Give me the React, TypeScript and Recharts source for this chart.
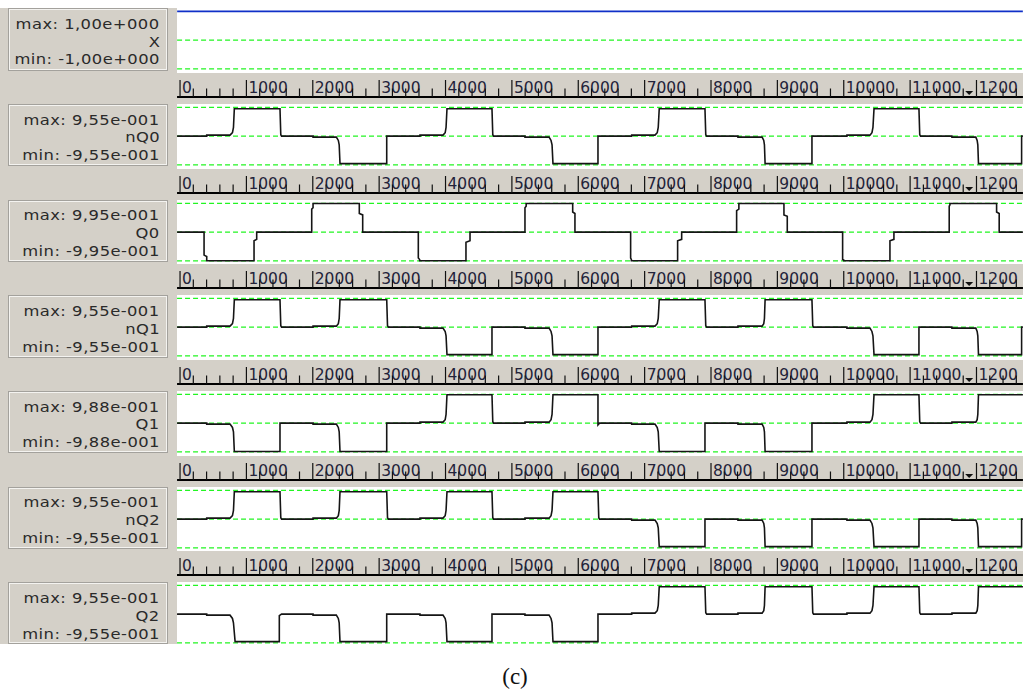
import React from 'react';
import { LineChart, Line, XAxis, YAxis, CartesianGrid } from 'recharts';

// ---------- data (time, value) ----------
const timeDomain: [number, number] = [-45, 12700];

const axisTicks = [
  0, 200, 400, 600, 800, 1000, 1200, 1400, 1600, 1800, 2000, 2200, 2400, 2600, 2800,
  3000, 3200, 3400, 3600, 3800, 4000, 4200, 4400, 4600, 4800, 5000, 5200, 5400, 5600, 5800,
  6000, 6200, 6400, 6600, 6800, 7000, 7200, 7400, 7600, 7800, 8000, 8200, 8400, 8600, 8800,
  9000, 9200, 9400, 9600, 9800, 10000, 10200, 10400, 10600, 10800, 11000, 11200, 11400, 11600, 11800,
  12000, 12200, 12400, 12600,
];
// labels as they are visible in the picture (the last one is truncated by the window edge)
const majorLabels: Record<number, string> = {
  0: '0', 1000: '1000', 2000: '2000', 3000: '3000', 4000: '4000', 5000: '5000', 6000: '6000',
  7000: '7000', 8000: '8000', 9000: '9000', 10000: '10000', 11000: '11000', 12000: '1200',
};

const signalNames = ['X', 'nQ0', 'Q0', 'nQ1', 'Q1', 'nQ2', 'Q2'];
const maxLabels = ['1,00e+000', '9,55e-001', '9,95e-001', '9,55e-001', '9,88e-001', '9,55e-001', '9,55e-001'];
const minLabels = ['-1,00e+000', '-9,55e-001', '-9,95e-001', '-9,55e-001', '-9,88e-001', '-9,55e-001', '-9,55e-001'];

const xSig: [number, number][] = [[-45, 1], [12700, 1]];

const nQ0Sig: [number, number][] = [
  [-45, 0], [402, 0], [402, 0.035], [753, 0.035], [790, 0.12], [805, 0.3], [818, 0.955], [1506, 0.955], [1518, 0.05], [1530, 0],
  [2004, 0], [2004, -0.035], [2355, -0.035], [2385, -0.15], [2398, -0.3], [2410, -0.955], [3114, -0.955], [3114, 0],
  [3615, 0], [3615, 0.035], [3962, 0.035], [3995, 0.12], [4008, 0.3], [4022, 0.955], [4700, 0.955], [4712, 0.05], [4725, 0],
  [5197, 0], [5197, -0.035], [5560, -0.035], [5590, -0.15], [5605, -0.3], [5619, -0.955], [6297, -0.955], [6297, 0],
  [6805, 0], [6805, 0.035], [7156, 0.035], [7190, 0.12], [7205, 0.3], [7220, 0.955], [7909, 0.955], [7921, 0.05], [7935, 0],
  [8406, 0], [8406, -0.035], [8770, -0.035], [8795, -0.15], [8805, -0.3], [8815, -0.955], [9521, -0.955], [9521, 0],
  [10048, 0], [10048, 0.035], [10395, 0.035], [10425, 0.12], [10440, 0.3], [10456, 0.955], [11133, 0.955], [11145, 0.05], [11158, 0],
  [11630, 0], [11630, -0.035], [11990, -0.035], [12010, -0.15], [12020, -0.3], [12030, -0.955], [12680, -0.955], [12680, 0], [12700, 0],
];

const q0Sig: [number, number][] = [
  [-45, 0], [362, 0], [362, -0.8], [402, -0.85], [402, -0.995], [1115, -0.995], [1115, -0.3], [1155, -0.25], [1155, 0],
  [1984, 0], [1984, 0.8], [2004, 0.85], [2004, 0.995], [2701, 0.995], [2701, 0.65], [2752, 0.6], [2752, 0],
  [3590, 0], [3590, -0.9], [3610, -0.95], [3610, -0.995], [4308, -0.995], [4308, -0.35], [4369, -0.3], [4369, 0],
  [5197, 0], [5197, 0.85], [5215, 0.9], [5215, 0.995], [5916, 0.995], [5916, 0.7], [5950, 0.65], [5950, 0],
  [6789, 0], [6789, -0.9], [6800, -0.95], [6800, -0.995], [7497, -0.995], [7497, -0.3], [7558, -0.25], [7558, 0],
  [8386, 0], [8386, 0.75], [8420, 0.8], [8420, 0.995], [9099, 0.995], [9099, 0.6], [9149, 0.55], [9149, 0],
  [9983, 0], [9983, -0.95], [10000, -0.97], [10000, -0.995], [10696, -0.995], [10696, -0.3], [10756, -0.25], [10756, 0],
  [11589, 0], [11589, 0.9], [11600, 0.95], [11600, 0.995], [12303, 0.995], [12303, 0.7], [12342, 0.65], [12342, 0], [12700, 0],
];

const nQ1Sig: [number, number][] = [
  [-45, 0], [402, 0], [402, 0.035], [753, 0.035], [790, 0.12], [805, 0.3], [818, 0.955], [1506, 0.955], [1518, 0.05], [1530, 0],
  [2004, 0], [2004, 0.035], [2355, 0.035], [2385, 0.12], [2398, 0.3], [2410, 0.955], [3114, 0.955], [3126, 0.05], [3140, 0],
  [3615, 0], [3615, -0.035], [3962, -0.035], [3995, -0.15], [4008, -0.3], [4022, -0.955], [4700, -0.955], [4700, 0],
  [5197, 0], [5197, -0.035], [5560, -0.035], [5590, -0.15], [5605, -0.3], [5619, -0.955], [6297, -0.955], [6297, 0],
  [6805, 0], [6805, 0.035], [7156, 0.035], [7190, 0.12], [7205, 0.3], [7220, 0.955], [7909, 0.955], [7921, 0.05], [7935, 0],
  [8406, 0], [8406, 0.035], [8770, 0.035], [8795, 0.12], [8805, 0.3], [8815, 0.955], [9521, 0.955], [9533, 0.05], [9545, 0],
  [10048, 0], [10048, -0.035], [10395, -0.035], [10425, -0.15], [10440, -0.3], [10456, -0.955], [11133, -0.955], [11133, 0],
  [11630, 0], [11630, -0.035], [11990, -0.035], [12010, -0.15], [12020, -0.3], [12030, -0.955], [12680, -0.955], [12680, 0], [12700, 0],
];

const q1Sig: [number, number][] = [
  [-45, 0], [402, 0], [402, -0.035], [753, -0.035], [790, -0.15], [805, -0.3], [818, -0.988], [1506, -0.988], [1506, 0],
  [2004, 0], [2004, -0.035], [2355, -0.035], [2385, -0.15], [2398, -0.3], [2410, -0.988], [3114, -0.988], [3114, 0],
  [3615, 0], [3615, 0.035], [3962, 0.035], [3995, 0.12], [4008, 0.3], [4022, 0.988], [4700, 0.988], [4712, 0.05], [4725, 0],
  [5197, 0], [5197, 0.035], [5560, 0.035], [5590, 0.12], [5605, 0.3], [5619, 0.988], [6297, 0.988], [6297, -0.06], [6320, 0],
  [6805, 0], [6805, -0.035], [7156, -0.035], [7190, -0.15], [7205, -0.3], [7220, -0.988], [7909, -0.988], [7909, 0],
  [8406, 0], [8406, -0.035], [8770, -0.035], [8795, -0.15], [8805, -0.3], [8815, -0.988], [9521, -0.988], [9521, 0],
  [10048, 0], [10048, 0.035], [10395, 0.035], [10425, 0.12], [10440, 0.3], [10456, 0.988], [11133, 0.988], [11145, 0.05], [11158, 0],
  [11630, 0], [11630, 0.035], [11990, 0.035], [12010, 0.12], [12020, 0.3], [12030, 0.988], [12700, 0.988],
];

const nQ2Sig: [number, number][] = [
  [-45, 0], [402, 0], [402, 0.035], [753, 0.035], [790, 0.12], [805, 0.3], [818, 0.955], [1506, 0.955], [1518, 0.05], [1530, 0],
  [2004, 0], [2004, 0.035], [2355, 0.035], [2385, 0.12], [2398, 0.3], [2410, 0.955], [3114, 0.955], [3126, 0.05], [3140, 0],
  [3615, 0], [3615, 0.035], [3962, 0.035], [3995, 0.12], [4008, 0.3], [4022, 0.955], [4700, 0.955], [4712, 0.05], [4725, 0],
  [5197, 0], [5197, 0.035], [5560, 0.035], [5590, 0.12], [5605, 0.3], [5619, 0.955], [6297, 0.955], [6309, 0.05], [6320, 0],
  [6805, 0], [6805, -0.035], [7156, -0.035], [7190, -0.15], [7205, -0.3], [7220, -0.955], [7909, -0.955], [7909, 0],
  [8406, 0], [8406, -0.035], [8770, -0.035], [8795, -0.15], [8805, -0.3], [8815, -0.955], [9521, -0.955], [9521, 0],
  [10048, 0], [10048, -0.035], [10395, -0.035], [10425, -0.15], [10440, -0.3], [10456, -0.955], [11133, -0.955], [11133, 0],
  [11630, 0], [11630, -0.035], [11990, -0.035], [12010, -0.15], [12020, -0.3], [12030, -0.955], [12680, -0.955], [12680, 0], [12700, 0],
];

const q2Sig: [number, number][] = [
  [-45, 0], [402, 0], [402, -0.035], [753, -0.035], [790, -0.15], [805, -0.3], [830, -0.955], [1496, -0.955], [1496, -0.05], [1530, 0],
  [2004, 0], [2004, -0.035], [2355, -0.035], [2385, -0.15], [2398, -0.3], [2410, -0.955], [3114, -0.955], [3114, 0],
  [3615, 0], [3615, -0.035], [3962, -0.035], [3995, -0.15], [4008, -0.3], [4022, -0.955], [4700, -0.955], [4700, 0],
  [5197, 0], [5197, -0.035], [5560, -0.035], [5590, -0.15], [5605, -0.3], [5619, -0.955], [6297, -0.955], [6297, 0],
  [6805, 0], [6805, 0.035], [7156, 0.035], [7190, 0.12], [7205, 0.3], [7220, 0.955], [7909, 0.955], [7921, 0.05], [7935, 0],
  [8406, 0], [8406, 0.035], [8770, 0.035], [8795, 0.12], [8805, 0.3], [8815, 0.955], [9521, 0.955], [9533, 0.05], [9545, 0],
  [10048, 0], [10048, 0.035], [10395, 0.035], [10425, 0.12], [10440, 0.3], [10456, 0.955], [11133, 0.955], [11145, 0.05], [11158, 0],
  [11630, 0], [11630, 0.035], [11990, 0.035], [12010, 0.12], [12020, 0.3], [12030, 0.955], [12700, 0.955],
];

const signals = [xSig, nQ0Sig, q0Sig, nQ1Sig, q1Sig, nQ2Sig, q2Sig];
const signalColors = ['#1030c8', '#151515', '#151515', '#151515', '#151515', '#151515', '#151515'];

// ---------- layout ----------
const GRAY = '#d4d0c8';
const PLOT_LEFT = 177;
const PLOT_W = 846;
const T0 = 11.7;
const PITCH = 95.67;
const UNIT = 28.75; // px per value unit
const AXIS_H = 32;
const BASE_OFF = 10.4; // axis baseline above top dash
const FIG_BOTTOM = 644;

const toPts = (a: [number, number][]) => a.map(([t, v]) => ({ t, v }));

const AxisTick = (props: any) => {
  const { x, y, payload } = props;
  const v = payload.value as number;
  const label = majorLabels[v];
  const major = label !== undefined;
  return (
    <g>
      <line x1={x} x2={x} y1={y} y2={y - (major ? 17 : 8.5)} stroke="#111" strokeWidth={1.2} />
      {major && (
        <text x={x + 2} y={y - 3.5} fontSize={15.5} fontFamily="DejaVu Sans" fill="#23233a">
          {label}
        </text>
      )}
      {v === 11800 && (
        <path d={`M ${x + 2} ${y - 6} L ${x + 10} ${y - 6} L ${x + 6} ${y - 2} Z`} fill="#111" />
      )}
    </g>
  );
};

function BoxLine({ text, center }: { text: string; center: number }) {
  return (
    <div style={{
      position: 'absolute', right: 7, top: center - 8.5, height: 17, lineHeight: '17px',
      fontFamily: 'DejaVu Sans', fontSize: 14.6, letterSpacing: '0.4px', color: '#2a2a2a', whiteSpace: 'nowrap',
      transform: 'scaleX(1.12)', transformOrigin: 'right center',
    }}>{text}</div>
  );
}

function Panel({ k }: { k: number }) {
  const T = T0 + PITCH * k;
  const hasAxis = k > 0;
  const plotTop = hasAxis ? T - BASE_OFF : T - 3.4;
  const plotBottom = k === 6 ? FIG_BOTTOM : T + 61.3;
  const yMax = 1 + (T - plotTop) / UNIT;
  const yMin = -1 - (plotBottom - (T + 57.5)) / UNIT;
  const chartTop = hasAxis ? plotTop - AXIS_H : plotTop;
  const chartH = plotBottom - chartTop;
  const whiteTop = T - 3.4;
  const boxTop = T - 3.5;
  const boxH = k === 6 ? FIG_BOTTOM - boxTop : 62.5;
  return (
    <>
      <div style={{ position: 'absolute', left: PLOT_LEFT, top: whiteTop, width: PLOT_W, height: plotBottom - whiteTop, background: '#fff' }} />
      <div style={{
        position: 'absolute', left: 8, top: boxTop, width: 160, height: boxH, boxSizing: 'border-box',
        border: '1px solid #a3a19c', boxShadow: 'inset 1px 1px 0 #f4f3f0, inset -1px -1px 0 #f4f3f0', background: GRAY,
      }}>
        <BoxLine text={`max: ${maxLabels[k]}`} center={14.2} />
        <BoxLine text={signalNames[k]} center={32} />
        <BoxLine text={`min: ${minLabels[k]}`} center={49.8} />
      </div>
      <div style={{ position: 'absolute', left: PLOT_LEFT, top: chartTop, width: PLOT_W, height: chartH }}>
        <LineChart width={PLOT_W} height={chartH} margin={{ top: 0, right: 0, bottom: 0, left: 0 }}>
          <XAxis
            type="number" dataKey="t" domain={timeDomain} allowDataOverflow
            orientation="top" height={AXIS_H} ticks={axisTicks} interval={0}
            tick={<AxisTick />} tickLine={false} tickSize={0} tickMargin={0}
            axisLine={{ stroke: '#000', strokeWidth: 2 }} hide={!hasAxis}
          />
          <YAxis type="number" domain={[yMin, yMax]} allowDataOverflow hide ticks={[-1, 0, 1]} />
          <CartesianGrid vertical={false} horizontalValues={[1, 0, -1]} stroke="#22f522" strokeDasharray="5 3" strokeWidth={1.2} />
          <Line
            data={toPts(signals[k])} dataKey="v" type="linear" stroke={signalColors[k]}
            strokeWidth={1.6} dot={false} activeDot={false} isAnimationActive={false}
          />
        </LineChart>
      </div>
    </>
  );
}

export default function App() {
  return (
    <div style={{ position: 'absolute', left: 0, top: 0, width: 1023, height: 689, overflow: 'hidden', background: '#fff' }}>
      <div style={{ position: 'absolute', left: 0, top: 8, width: 1023, height: FIG_BOTTOM - 8, background: GRAY }} />
      {signalNames.map((_, k) => <Panel key={k} k={k} />)}
      <div style={{
        position: 'absolute', left: 0, width: 1030, top: 664, textAlign: 'center',
        fontFamily: '"Liberation Serif", serif', fontSize: 23, lineHeight: '26px', color: '#111',
      }}>(c)</div>
    </div>
  );
}
